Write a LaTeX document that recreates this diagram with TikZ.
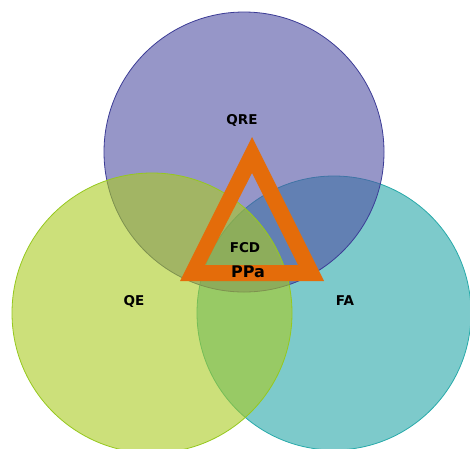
\documentclass[tikz,border=0pt]{standalone}
\usepackage{fontspec}
\setmainfont{DejaVu Sans}
\definecolor{cpur}{RGB}{80,80,163}
\definecolor{cpurl}{RGB}{60,60,150}
\definecolor{cgrn}{RGB}{170,203,33}
\definecolor{cgrnl}{RGB}{150,200,30}
\definecolor{ctea}{RGB}{38,167,168}
\definecolor{cteal}{RGB}{40,170,170}
\definecolor{corg}{RGB}{228,108,10}
\tikzset{
  venn/.style={fill opacity=0.6, line width=0.8pt},
  lbl/.style={font=\bfseries\fontsize{13.5}{14}\selectfont, text=black, inner sep=0pt}
}
\begin{document}
\begin{tikzpicture}[x=1pt,y=-1pt]
\useasboundingbox (0,0) rectangle (470,448);
\begin{scope}
\clip (0,0) rectangle (470,448);
\draw[venn, fill=ctea, draw=cteal] (334,313) circle (137);
\draw[venn, fill=cpur, draw=cpurl] (244,152) circle (140);
\draw[venn, fill=cgrn, draw=cgrnl] (152,313) circle (140);
\end{scope}
\fill[corg, even odd rule] (252,137) -- (180,281) -- (324,281) -- cycle
  (252,173) -- (205,265) -- (298,265) -- cycle;
\node[lbl] (qre) at (242,120) {QRE};
\node[lbl] (qe) at (134,301) {QE};
\node[lbl] (fa) at (345,301) {FA};
\node[lbl] (fcd) at (245,248) {FCD};
\node[lbl, font=\bfseries\fontsize{16}{17}\selectfont] (ppa) at (248,272) {PPa};
\end{tikzpicture}
\end{document}
